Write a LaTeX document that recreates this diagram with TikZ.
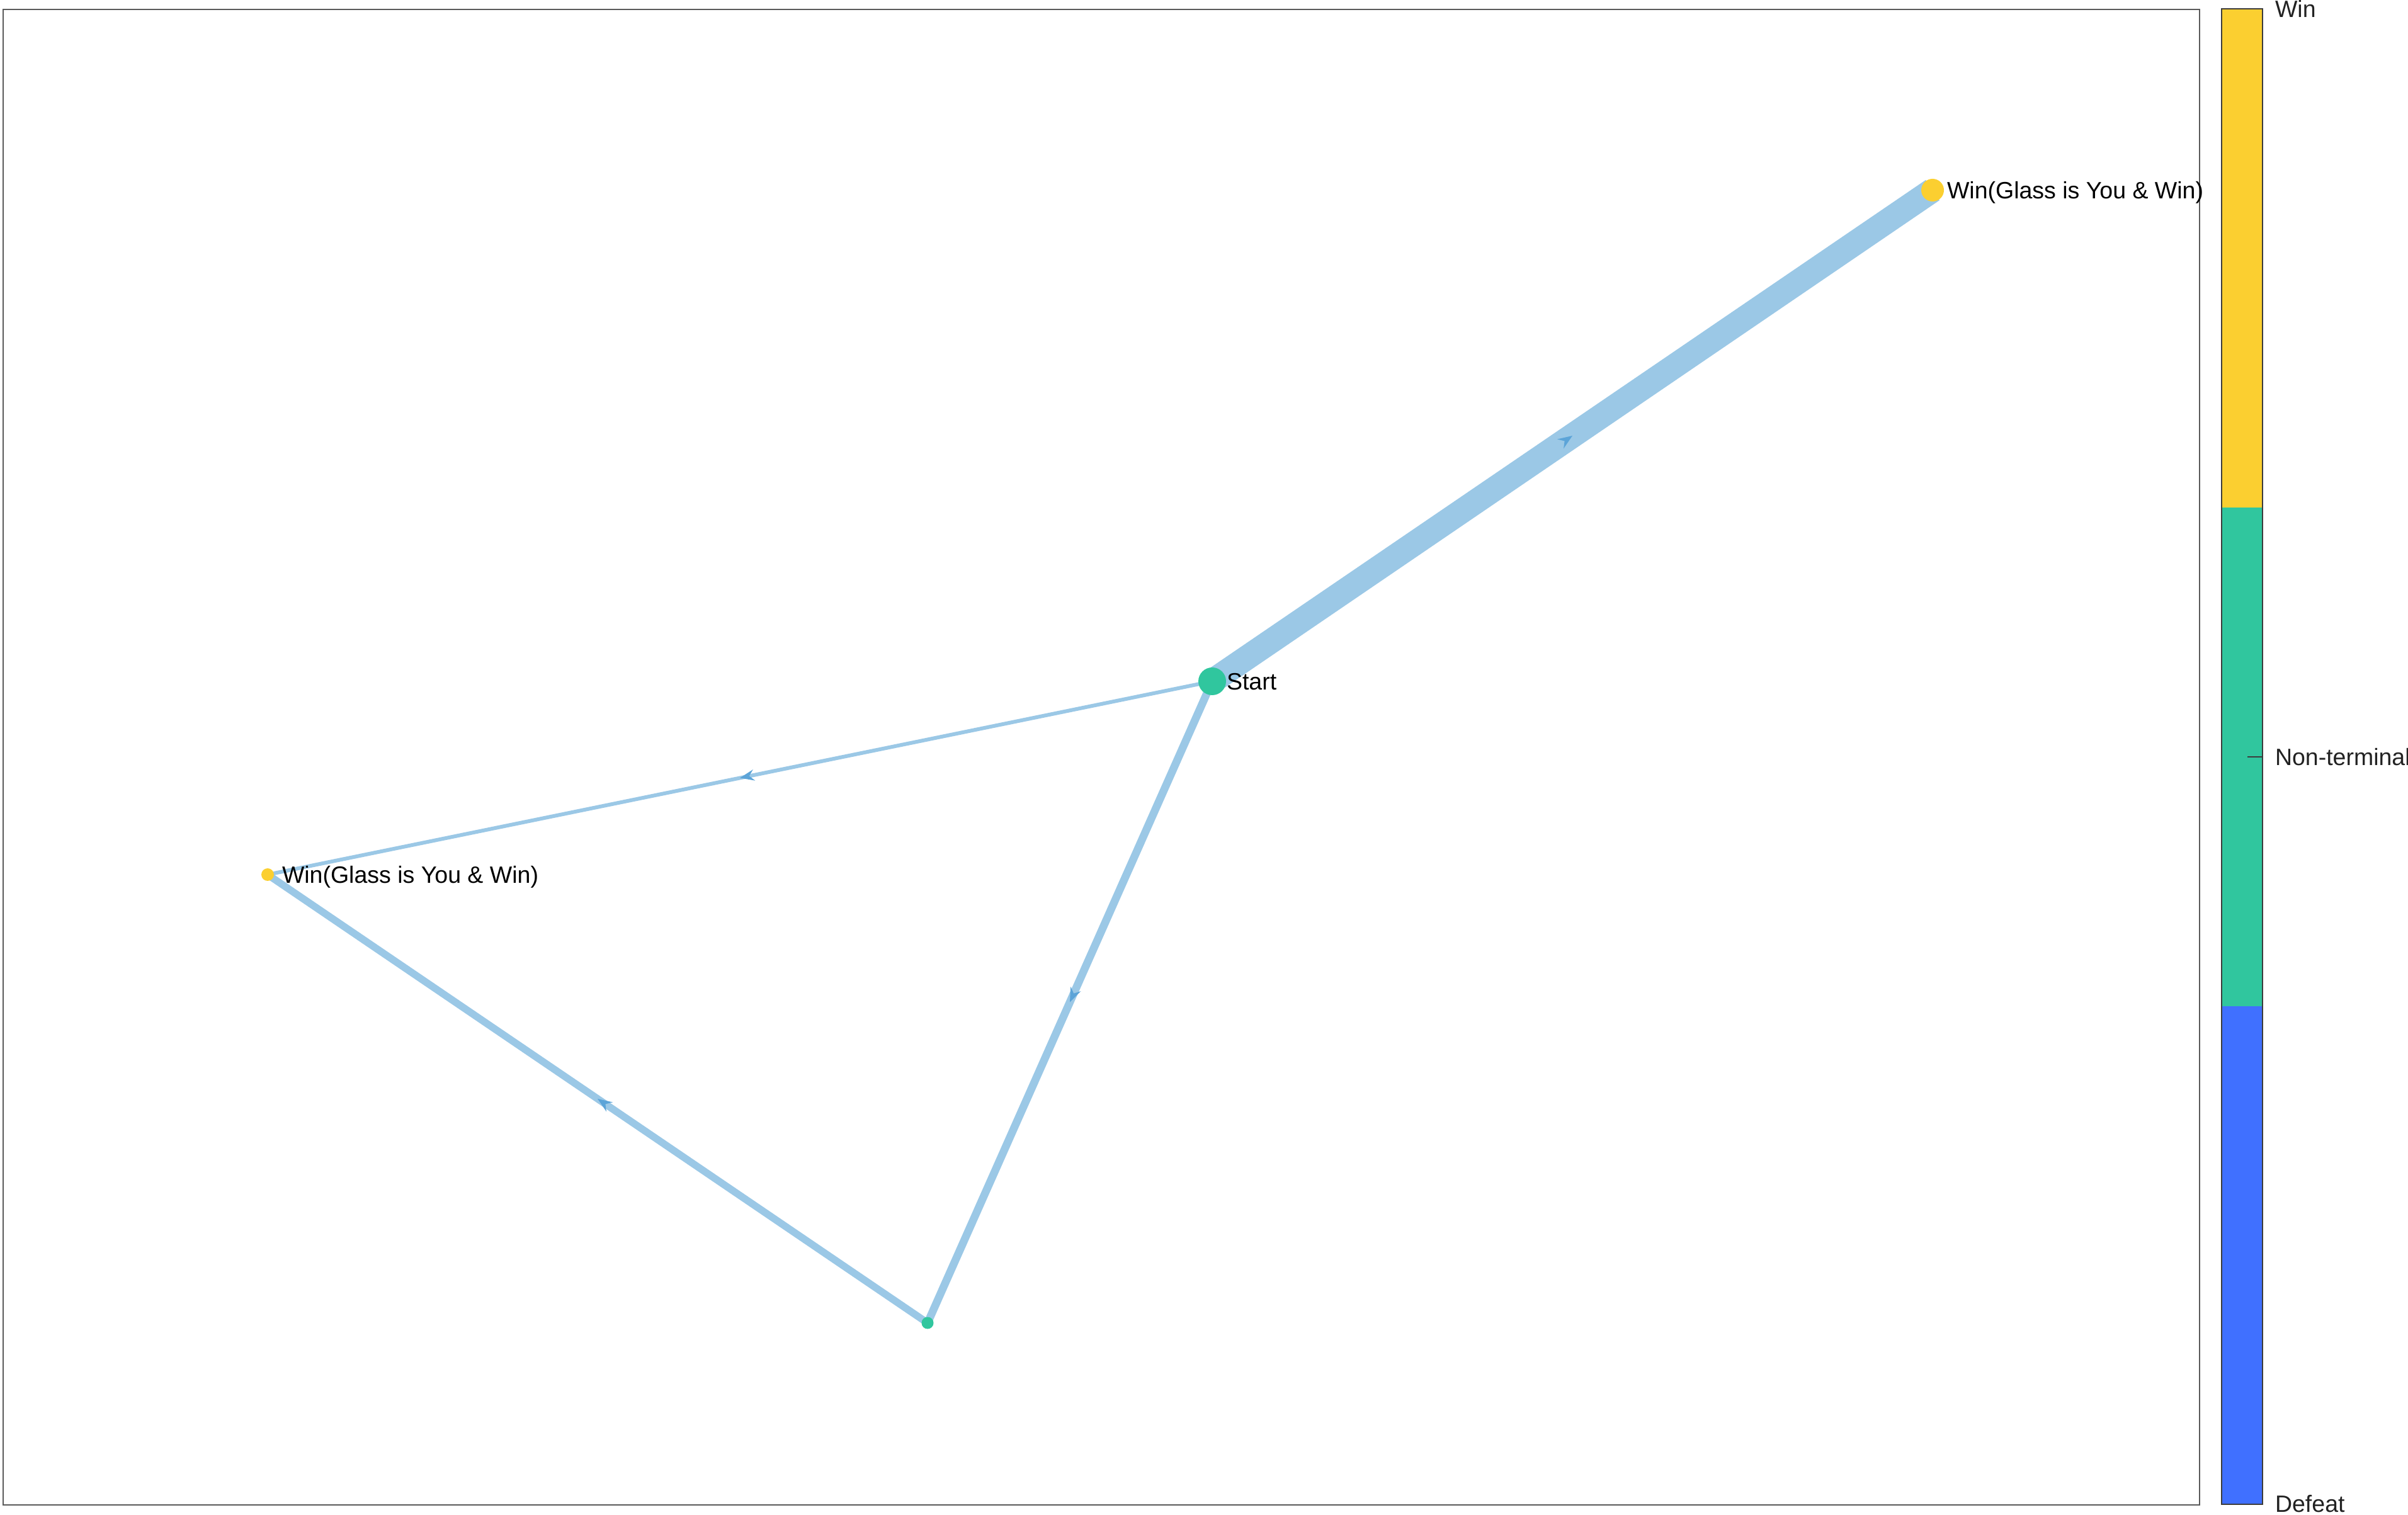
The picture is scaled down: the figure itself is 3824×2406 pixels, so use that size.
\documentclass[tikz,border=0pt]{standalone}
\usepackage{fontspec}
\setmainfont{Liberation Sans}
\usetikzlibrary{decorations.markings,backgrounds}
\definecolor{edgeblue}{RGB}{155,200,230}
\definecolor{arrowblue}{RGB}{92,164,216}
\definecolor{wincol}{RGB}{251,207,48}
\definecolor{ntcol}{RGB}{48,198,158}
\definecolor{defcol}{RGB}{64,112,255}
\definecolor{framecol}{RGB}{90,90,90}
\definecolor{barline}{RGB}{60,60,60}
\definecolor{labcol}{RGB}{34,34,34}
\begin{document}
\begin{tikzpicture}[x=0.2pt,y=-0.2pt,
  state/.style={circle,inner sep=0pt,outer sep=0pt,draw=none},
  edgeline/.style={draw=edgeblue,line cap=butt,postaction={decorate},
    decoration={markings,mark=at position 0.5 with {\fill[arrowblue] (0,0) -- (-4.6pt,1.8pt) -- (-3pt,0) -- (-4.6pt,-1.8pt) -- cycle;}}},
  lab/.style={anchor=base west,inner sep=0pt,font=\fontsize{7.5pt}{9pt}\selectfont},
  barlab/.style={lab,text=labcol}]
\useasboundingbox (0,0) rectangle (3824,2406);
% frame
\draw[framecol,line width=0.5pt] (5,15) rectangle (3493,2390);
% nodes
\node[state,fill=ntcol,minimum size=8.8pt] (start) at (1925,1082) {};
\node[state,fill=wincol,minimum size=7.2pt] (wtr) at (3069,302) {};
\node[state,fill=wincol,minimum size=4pt] (wl) at (425,1389) {};
\node[state,fill=ntcol,minimum size=3.8pt] (mid) at (1473,2101) {};
% edges
\begin{scope}[on background layer]
\draw[edgeline,line width=7.8pt] (start.center) -- (wtr.center);
\draw[edgeline,line width=2.5pt] (start.center) -- (mid.center);
\draw[edgeline,line width=2.3pt] (mid.center) -- (wl.center);
\draw[edgeline,line width=1.2pt] (start.center) -- (wl.center);
\end{scope}
% labels
\node[lab] (lstart) at (1947,1096) {Start};
\node[lab] (lwtr) at (3091,316) {Win(Glass is You \& Win)};
\node[lab] (lwl) at (447,1403) {Win(Glass is You \& Win)};
% colour bar
\fill[defcol] (3528,1598) rectangle (3593,2389);
\fill[ntcol] (3528,806) rectangle (3593,1598);
\fill[wincol] (3528,14) rectangle (3593,806);
\draw[barline,line width=0.4pt] (3528,14) rectangle (3593,2389);
\draw[barline,line width=0.4pt] (3569,1202) -- (3593,1202);
\node[barlab] (bwin) at (3612,28) {Win};
\node[barlab] (bnt) at (3612,1216) {Non-terminal};
\node[barlab] (bdef) at (3612,2401) {Defeat};
\end{tikzpicture}
\end{document}
